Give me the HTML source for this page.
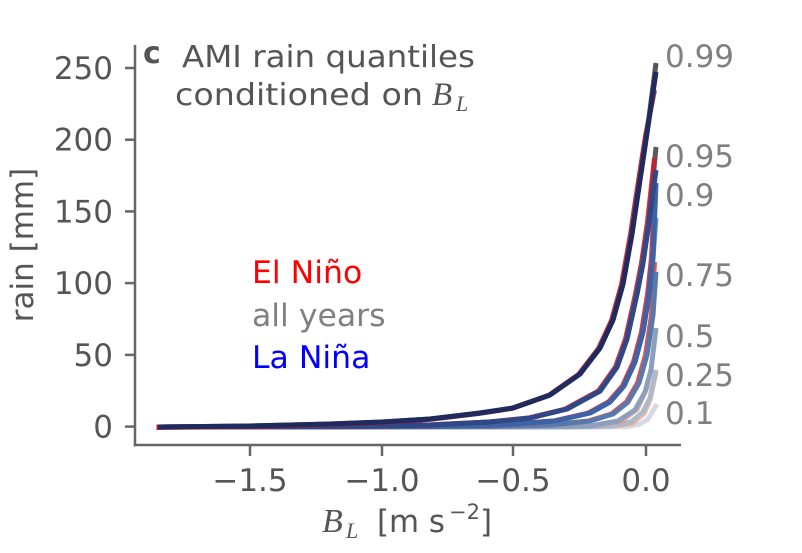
<!DOCTYPE html>
<html><head><meta charset="utf-8">
<style>
html,body{margin:0;padding:0;background:#fff;}
svg{display:block;}
text{font-family:"DejaVu Sans","Liberation Sans",sans-serif;}
text.serif{font-family:"Liberation Serif",serif;font-style:italic;}
</style></head>
<body>
<svg width="802" height="553" viewBox="0 0 802 553" xmlns="http://www.w3.org/2000/svg">
<rect width="802" height="553" fill="#fff"/>

<!-- curves -->
<g fill="none" stroke-width="5" stroke-linejoin="round">
  <!-- 0.1 -->
  <polyline points="158,427 600,427 628,426.5 640,424 648,419 657,404" stroke="#d4d9e3"/>
  <!-- 0.25 -->
  <polyline points="160,427.5 580,427.5 615,427 633,424 645,414 651,400 657,372" stroke="#f3a58a" stroke-width="3" opacity="0.8"/>
  <polyline points="158,427 575,427 612,426 631,422 643,412 650,398 656,370" stroke="#aebacb"/>
  <!-- 0.5 -->
  <polyline points="160,427.5 540,427.5 595,426.5 622,422 638,410 648,388 656,332" stroke="#f0907a" stroke-width="3" opacity="0.7"/>
  <polyline points="158,427 530,427 590,426 618,421 635,410 645,392 651,370 656,328" stroke="#8c9fbc"/>
  <!-- 0.75 -->
  <polyline points="156.5,427 478.5,426.5 548.5,425 588.5,421 611.5,414 626.5,402 637.5,383 645.5,355 651.5,315 654.5,262" stroke="#e8403a" opacity="0.9"/>
  <polyline points="158,427 480,426.5 550,425 590,421 613,414 628,402 639,383 647,355 653,315 656,272" stroke="#5b78aa"/>
  <!-- 0.9 -->
  <polyline points="158,427 420,426.5 500,425 555,421 590,413 610,402 624,386 635,362 643,332 649,295 653,258 656,218" stroke="#5a9ad8"/>
  <polyline points="156.5,427 418.5,426.5 498.5,425 553.5,421 588.5,413 608.5,402 622.5,386 633.5,362 641.5,332 647.5,295 651.5,258 654.5,197" stroke="#c8283a" opacity="0.9"/>
  <polyline points="158,427 420,426.5 500,425 555,421 590,413 610,402 624,386 635,362 643,332 649,295 653,258 656,183" stroke="#3d62a6"/>
  <!-- 0.95 -->
  <polyline points="158,427 350,426.5 430,425 490,422 530,418 567,409 600,391 617,367 627,339 637,294 643,263 649,222 656,147" stroke="#5a5a5a"/>
  <polyline points="156.5,427 348.5,426.5 428.5,425 488.5,422 528.5,418 565.5,409 598.5,391 615.5,367 625.5,339 635.5,294 641.5,263 647.5,222 654.5,158" stroke="#c22030" opacity="0.9"/>
  <polyline points="158,427 350,426.5 430,425 490,422 530,418 567,409 600,391 617,367 627,339 637,294 643,263 649,222 656,170" stroke="#2e4888"/>
  <!-- 0.99 -->
  <polyline points="158,427 250,426 330,424 382,422 430,419 480,413 513,408 550,395 580,374 600,348 613,320 623,284 632,234 637,200 647,133 656,63" stroke="#555555"/>
  <polyline points="156.5,427.5 248.5,426.5 328.5,424.5 380.5,422.5 428.5,419.5 478.5,413.5 511.5,408.5 548.5,395.5 578.5,374.5 598.5,348.5 611.5,320.5 621.5,284.5 630.5,234.5 635.5,200.5 645.5,136 654.5,90" stroke="#b81c2c" opacity="0.9"/>
  <polyline points="158,427 250,426 330,424 382,422 430,419 480,413 513,408 550,395 580,374 600,348 613,320 623,284 632,234 637,200 647,133 656,72" stroke="#1f2b5f"/>
</g>

<!-- axes -->
<g stroke="#666" stroke-width="2.5" fill="none">
  <line x1="135" y1="45" x2="135" y2="446.2"/>
  <line x1="133.8" y1="445" x2="681" y2="445"/>
  <line x1="125" y1="68" x2="135" y2="68"/>
  <line x1="125" y1="139.7" x2="135" y2="139.7"/>
  <line x1="125" y1="211.4" x2="135" y2="211.4"/>
  <line x1="125" y1="283.1" x2="135" y2="283.1"/>
  <line x1="125" y1="354.9" x2="135" y2="354.9"/>
  <line x1="125" y1="426.6" x2="135" y2="426.6"/>
  <line x1="250" y1="445" x2="250" y2="456"/>
  <line x1="382" y1="445" x2="382" y2="456"/>
  <line x1="513" y1="445" x2="513" y2="456"/>
  <line x1="646" y1="445" x2="646" y2="456"/>
</g>

<!-- y tick labels -->
<g fill="#555" font-size="31" text-anchor="end">
  <text x="113" y="79">250</text>
  <text x="113" y="150.7">200</text>
  <text x="113" y="222.4">150</text>
  <text x="113" y="294.1">100</text>
  <text x="113" y="365.9">50</text>
  <text x="113" y="437.6">0</text>
</g>

<!-- x tick labels -->
<g fill="#555" font-size="31" text-anchor="middle">
  <text x="250" y="491">−1.5</text>
  <text x="382" y="491">−1.0</text>
  <text x="513" y="491">−0.5</text>
  <text x="646" y="491">0.0</text>
</g>

<!-- x label -->
<text class="serif" y="532" fill="#555" font-size="34" x="322">B</text>
<text class="serif" y="538" fill="#555" font-size="22" x="346">L</text>
<text y="532" fill="#555" font-size="31" x="377" textLength="68" lengthAdjust="spacingAndGlyphs">[m s</text>
<text y="519" fill="#555" font-size="21" x="449">−2</text>
<text y="532" fill="#555" font-size="31" x="480">]</text>

<!-- y label -->
<text transform="translate(33,245) rotate(-90)" text-anchor="middle" fill="#555" font-size="31">rain [mm]</text>

<!-- panel letter -->
<text x="143" y="63" fill="#555" font-size="30" font-weight="bold">c</text>

<!-- title -->
<text x="182" y="67" fill="#555" font-size="30" textLength="293" lengthAdjust="spacingAndGlyphs">AMI rain quantiles</text>
<text x="175" y="105" fill="#555" font-size="30" textLength="248" lengthAdjust="spacingAndGlyphs">conditioned on</text>
<text class="serif" x="432" y="105" fill="#555" font-size="33">B</text>
<text class="serif" x="456" y="111" fill="#555" font-size="22">L</text>

<!-- legend -->
<g font-size="31.5">
  <text x="252" y="283" fill="#ff0000">El Niño</text>
  <text x="252" y="326" fill="#808080">all years</text>
  <text x="252" y="368" fill="#0000ff">La Niña</text>
</g>

<!-- quantile labels -->
<g fill="#808080" font-size="31">
  <text x="665" y="67">0.99</text>
  <text x="665" y="167">0.95</text>
  <text x="665" y="206">0.9</text>
  <text x="665" y="286">0.75</text>
  <text x="665" y="347">0.5</text>
  <text x="665" y="386">0.25</text>
  <text x="665" y="424">0.1</text>
</g>
</svg>
</body></html>
